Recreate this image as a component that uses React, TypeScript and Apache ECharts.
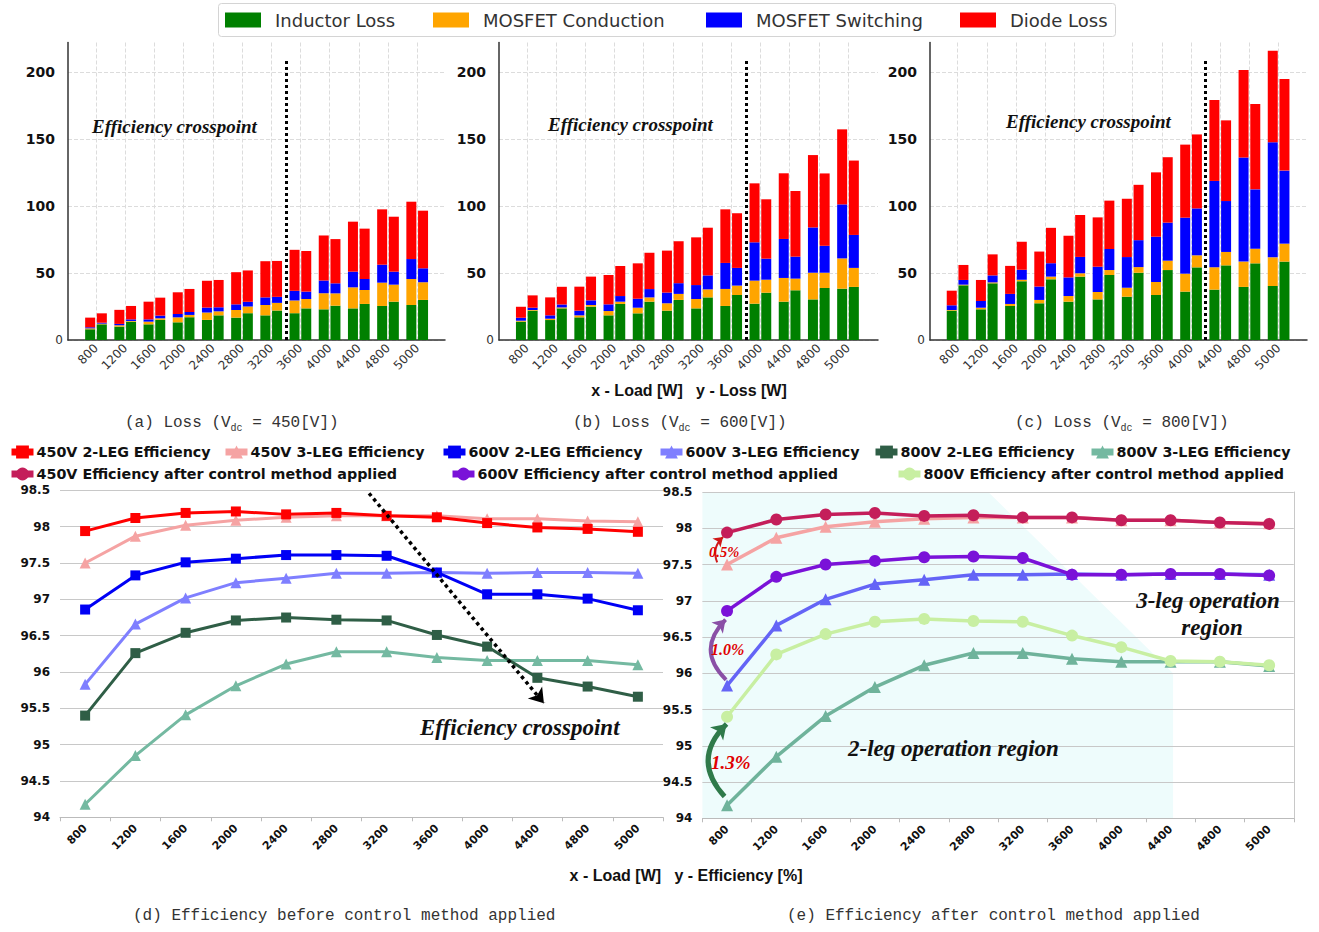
import React, { useEffect, useRef } from 'react';
import * as echarts from 'echarts';

// ---------- categories ----------
const loads = ['800', '1200', '1600', '2000', '2400', '2800', '3200', '3600', '4000', '4400', '4800', '5000'];
const lossNames = ['Inductor Loss', 'MOSFET Conduction', 'MOSFET Switching', 'Diode Loss'];

// ---------- (a) Vdc = 450 V : left bar (2-leg) / right bar (3-leg) ----------
const a2Inductor = [8, 10, 11.7, 13.2, 15, 16.7, 18.4, 20, 22.9, 23.6, 25.4, 26.1];
const a2Cond = [0.7, 1, 2, 3.7, 5.5, 5.7, 7.7, 9.5, 12, 15.7, 17.4, 19.4];
const a2Switch = [0.8, 1, 1.7, 2.5, 3.7, 4.2, 5.7, 7.2, 9.5, 11.7, 13.4, 14.9];
const a2Diode = [7.2, 10.5, 13.2, 16.2, 20, 24, 27, 30.6, 33.6, 37.3, 41.3, 42.8];
const a3Inductor = [11.7, 13.7, 15, 17, 18.4, 20, 22, 23.6, 25.6, 26.9, 28.6, 29.9];
const a3Cond = [0.5, 0.5, 1.2, 1.7, 3, 5, 5.7, 7, 9.2, 10.4, 12.7, 13.2];
const a3Switch = [0.7, 1.2, 2, 2.2, 3, 3.5, 4.5, 5.5, 7.5, 8.2, 9.7, 10.4];
const a3Diode = [7, 10, 13.4, 17.2, 20.4, 23.4, 26.8, 30.3, 33, 37.6, 41, 43];

// ---------- (b) Vdc = 600 V ----------
const b2Inductor = [13.7, 14.9, 16.9, 18.4, 19.9, 21.9, 23.6, 25.4, 27.1, 28.6, 30.3, 38.3];
const b2Cond = [0.7, 1, 1.5, 3.2, 4.2, 5.5, 7, 12.7, 17.2, 17.7, 19.9, 22.6];
const b2Switch = [2.2, 2.5, 3.5, 5, 6.7, 8, 10.4, 19.4, 28.6, 29.1, 33.8, 40.3];
const b2Diode = [8.2, 13.4, 17.9, 21.9, 26.4, 31.3, 35.6, 40, 44, 49, 54, 56];
const b3Inductor = [21.9, 23.6, 24.9, 26.9, 28.6, 29.9, 31.8, 33.6, 35.3, 37.1, 38.8, 39.6];
const b3Cond = [0.5, 0.7, 1.2, 1.7, 3.2, 4.5, 6, 7, 9.7, 8.7, 11.4, 14.2];
const b3Switch = [1.7, 2.2, 3.5, 4.2, 6.2, 8, 10.4, 13.2, 15.7, 16.4, 20.1, 24.6];
const b3Diode = [9.2, 13.2, 17.7, 22.4, 27.1, 31.3, 35.6, 40.8, 44.3, 49, 54, 55.5];

// ---------- (c) Vdc = 800 V ----------
const c2Inductor = [21.9, 22.9, 25.4, 27.4, 28.6, 30.3, 32.3, 33.6, 36.1, 37.6, 39.6, 40.3];
const c2Cond = [0.5, 1.2, 1.5, 2.5, 4.2, 5.5, 6.7, 9.7, 13.4, 16.7, 18.9, 21.4];
const c2Switch = [3.5, 5, 7.5, 10, 13.9, 18.9, 22.9, 33.8, 41.8, 64.4, 77.6, 85.8];
const c2Diode = [10.9, 15.7, 20.9, 26.1, 31.1, 36.8, 43.5, 48, 54.5, 60.4, 65.4, 68.4];
const c3Inductor = [40.8, 42.3, 43.8, 45.3, 47.3, 48.5, 50.2, 52.2, 54.2, 55.7, 57.2, 58.5];
const c3Cond = [0.5, 0.7, 1.2, 2, 2.5, 3.7, 4.2, 7, 9, 10, 10.9, 13.4];
const c3Switch = [3.5, 5.2, 7.5, 10, 12.2, 15.7, 20.1, 28.4, 35, 38, 44.3, 54.5];
const c3Diode = [11.2, 15.7, 20.9, 26.4, 31.3, 36.1, 41.3, 48.8, 55.2, 60.2, 63.7, 68.4];

// crosspoint positions (category index between two loads) and dotted line top
const crossAt = [6.5, 7.5, 8.5];
const crossTop = 210;

// ---------- efficiency ----------
const eff450TwoLeg = [97.94, 98.12, 98.19, 98.21, 98.17, 98.19, 98.15, 98.13, 98.05, 97.99, 97.97, 97.93];
const eff450ThreeLeg = [97.5, 97.87, 98.02, 98.09, 98.13, 98.15, 98.15, 98.15, 98.11, 98.11, 98.08, 98.07];
const eff600TwoLeg = [96.86, 97.33, 97.51, 97.56, 97.61, 97.61, 97.6, 97.37, 97.07, 97.07, 97.01, 96.85];
const eff600ThreeLeg = [95.83, 96.66, 97.02, 97.23, 97.29, 97.36, 97.36, 97.37, 97.36, 97.37, 97.37, 97.36];
const eff800TwoLeg = [95.4, 96.26, 96.54, 96.71, 96.75, 96.72, 96.71, 96.51, 96.35, 95.92, 95.8, 95.66];
const eff800ThreeLeg = [94.18, 94.85, 95.41, 95.81, 96.11, 96.28, 96.28, 96.2, 96.16, 96.16, 96.16, 96.1];
const eff450After = [97.94, 98.12, 98.19, 98.21, 98.17, 98.18, 98.15, 98.15, 98.11, 98.11, 98.08, 98.06];
const eff600After = [96.86, 97.33, 97.5, 97.55, 97.6, 97.61, 97.59, 97.36, 97.36, 97.37, 97.37, 97.35];
const eff800After = [95.4, 96.26, 96.54, 96.71, 96.75, 96.72, 96.71, 96.52, 96.36, 96.17, 96.16, 96.11];

const effTicks = { min: 94, max: 98.5, interval: 0.5 };

// annotations in data space
const crossArrow = [[5.65, 98.46], [9.13, 95.57]];
const gain05 = [[-0.2, 97.53], [-0.08, 97.88]];
const gain10 = [[-0.02, 95.91], [-0.03, 96.74]];
const gain13 = [[-0.05, 94.3], [-0.01, 95.3]];
const twoLegRegion = [[-0.5, 98.5], [5.3, 98.5], [9.05, 96.0], [9.05, 94], [-0.5, 94]];

const SANS = 'DejaVu Sans';
const SERIF = 'Liberation Serif';
const MONO = 'Liberation Mono';
const lossColors = ['#008000', '#FFA500', '#0000FF', '#FF0000'];

function buildOption() {
  const grid: any[] = [];
  const xAxis: any[] = [];
  const yAxis: any[] = [];
  const series: any[] = [];

  const TOP = 42.5;
  const H = 297.5;
  const MAXL = 222;

  const panels = [
    { frameLeft: 68, frameWidth: 377, barLeft: 81.4, barWidth: 350.4, sets: [[a2Inductor, a2Cond, a2Switch, a2Diode], [a3Inductor, a3Cond, a3Switch, a3Diode]] },
    { frameLeft: 499, frameWidth: 379, barLeft: 512.2, barWidth: 350.4, sets: [[b2Inductor, b2Cond, b2Switch, b2Diode], [b3Inductor, b3Cond, b3Switch, b3Diode]] },
    { frameLeft: 930, frameWidth: 377, barLeft: 943, barWidth: 350.2, sets: [[c2Inductor, c2Cond, c2Switch, c2Diode], [c3Inductor, c3Cond, c3Switch, c3Diode]] },
  ];

  panels.forEach((p, i) => {
    const gFrame = grid.length;
    grid.push({ left: p.frameLeft, top: TOP, width: p.frameWidth, height: H, outerBoundsMode: 'none' });
    const gBar = grid.length;
    grid.push({ left: p.barLeft, top: TOP, width: p.barWidth, height: H, outerBoundsMode: 'none' });

    xAxis.push({
      type: 'value', gridIndex: gFrame, min: 0, max: 1,
      axisLine: { show: true, onZero: false, lineStyle: { color: '#333', width: 1.5 } },
      axisTick: { show: false }, axisLabel: { show: false }, splitLine: { show: false },
    });
    yAxis.push({
      type: 'value', gridIndex: gFrame, min: 0, max: MAXL, interval: 50,
      axisLine: { show: true, lineStyle: { color: '#333', width: 1.5 } },
      axisTick: { show: false },
      splitLine: { show: true, showMaxLine: false, lineStyle: { color: '#dcdcdc', type: 'dashed' } },
      axisLabel: {
        margin: 5, showMaxLabel: false,
        formatter: (v: number) => (v === 0 ? '{z|0}' : '{b|' + v + '}'),
        rich: {
          z: { fontSize: 12, color: '#333', fontFamily: SANS },
          b: { fontSize: 14, fontWeight: 'bold', color: '#111', fontFamily: SANS, padding: [0, 8, 0, 0] },
        },
      },
    });
    const xCat = xAxis.length;
    xAxis.push({
      type: 'category', gridIndex: gBar, data: loads,
      axisLine: { show: false }, axisTick: { show: false },
      splitLine: { show: true, alignWithLabel: true, lineStyle: { color: '#dcdcdc', type: 'dashed' } },
      axisLabel: { rotate: 45, fontSize: 12, color: '#333', fontFamily: SANS, margin: 6 },
    });
    const yBar = yAxis.length;
    yAxis.push({ type: 'value', gridIndex: gBar, min: 0, max: MAXL, show: false, splitLine: { show: false } });
    const xMark = xAxis.length;
    xAxis.push({ type: 'value', gridIndex: gBar, min: -0.5, max: 11.5, show: false, splitLine: { show: false } });

    p.sets.forEach((set, k) => {
      set.forEach((arr, j) => {
        series.push({
          type: 'bar', name: lossNames[j], stack: 'p' + i + 's' + k,
          xAxisIndex: xCat, yAxisIndex: yBar, data: arr,
          barWidth: 10, barGap: '17%',
          itemStyle: { color: lossColors[j] },
          emphasis: { disabled: true },
        });
      });
    });

    series.push({
      type: 'lines', coordinateSystem: 'cartesian2d', xAxisIndex: xMark, yAxisIndex: yBar,
      symbol: ['none', 'none'], silent: true, z: 5,
      lineStyle: { type: 'dotted', color: '#000', width: 3, opacity: 1 },
      data: [{ coords: [[crossAt[i], 0], [crossAt[i], crossTop]] }],
    });
  });

  // ---------- bottom panels ----------
  const bottom = [
    { left: 60, top: 490.4, width: 603, height: 326.9 },
    { left: 702.4, top: 492, width: 591.4, height: 326.3 },
  ];
  const idx: any[] = [];
  bottom.forEach((b, bi) => {
    const g = grid.length;
    grid.push({ ...b, outerBoundsMode: 'none' });
    const xc = xAxis.length;
    xAxis.push({
      type: 'category', gridIndex: g, data: loads,
      axisLine: { show: true, lineStyle: { color: '#bbb' } },
      axisTick: { show: true, length: 4, lineStyle: { color: '#bbb' } },
      splitLine: { show: false },
      axisLabel: { rotate: 45, fontSize: 11, fontWeight: 'bold', color: '#111', fontFamily: SANS, margin: 9 },
    });
    const yv = yAxis.length;
    yAxis.push({
      type: 'value', gridIndex: g, ...effTicks,
      axisLine: { show: false }, axisTick: { show: false },
      splitLine: { show: true, lineStyle: { color: '#c8c8c8', width: 1 } },
      axisLabel: { fontSize: 12, fontWeight: 'bold', color: '#111', fontFamily: SANS, margin: 10 },
    });
    if (bi === 1) {
      yAxis.push({
        type: 'value', gridIndex: g, position: 'right', ...effTicks,
        axisLine: { show: true, lineStyle: { color: '#c8c8c8' } }, axisTick: { show: false },
        axisLabel: { show: false }, splitLine: { show: false },
      });
    }
    const xv = xAxis.length;
    xAxis.push({ type: 'value', gridIndex: g, min: -0.5, max: 11.5, show: false, splitLine: { show: false } });
    idx.push({ xc, yv, xv });
  });

  const line = (name: string, data: number[], color: string, symbol: string, ax: any, width: number, size: number, z: number) => ({
    type: 'line', name, data, xAxisIndex: ax.xc, yAxisIndex: ax.yv,
    symbol, symbolSize: size, showSymbol: true,
    lineStyle: { color, width }, itemStyle: { color },
    z, emphasis: { disabled: true },
  });

  const N450_2 = '450V 2-LEG Efficiency';
  const N450_3 = '450V 3-LEG Efficiency';
  const N600_2 = '600V 2-LEG Efficiency';
  const N600_3 = '600V 3-LEG Efficiency';
  const N800_2 = '800V 2-LEG Efficiency';
  const N800_3 = '800V 3-LEG Efficiency';
  const N450_A = '450V Efficiency after control method applied';
  const N600_A = '600V Efficiency after control method applied';
  const N800_A = '800V Efficiency after control method applied';

  const D = idx[0];
  const E = idx[1];
  series.push(line(N450_3, eff450ThreeLeg, '#F5A3A3', 'triangle', D, 3, 11, 3));
  series.push(line(N450_2, eff450TwoLeg, '#FF0000', 'rect', D, 3, 10, 4));
  series.push(line(N600_3, eff600ThreeLeg, '#7F7FFF', 'triangle', D, 3, 11, 3));
  series.push(line(N600_2, eff600TwoLeg, '#0000F5', 'rect', D, 3, 10, 4));
  series.push(line(N800_3, eff800ThreeLeg, '#74B9A1', 'triangle', D, 3, 11, 3));
  series.push(line(N800_2, eff800TwoLeg, '#2F5E46', 'rect', D, 3, 10, 4));

  series.push(line(N450_3, eff450ThreeLeg, '#F5A3A3', 'triangle', E, 3.5, 12, 3));
  series.push(line(N600_3, eff600ThreeLeg, '#6464F6', 'triangle', E, 3.5, 12, 3));
  series.push(line(N800_3, eff800ThreeLeg, '#6FB39B', 'triangle', E, 3.5, 12, 3));
  series.push(line(N450_A, eff450After, '#C41E5A', 'circle', E, 3.5, 12, 4));
  series.push(line(N600_A, eff600After, '#7A12D8', 'circle', E, 3.5, 12, 4));
  series.push(line(N800_A, eff800After, '#C8EFA2', 'circle', E, 3.5, 12, 4));

  // 2-leg operation region (light cyan)
  series.push({
    type: 'custom', xAxisIndex: E.xv, yAxisIndex: E.yv, z: -1, silent: true, clip: false,
    data: [[0, 95]],
    renderItem: (_params: any, api: any) => ({
      type: 'polygon',
      shape: { points: twoLegRegion.map((pt) => api.coord(pt)) },
      style: { fill: '#EEFCFC' },
    }),
  });

  // efficiency crosspoint arrow in (d)
  series.push({
    type: 'lines', coordinateSystem: 'cartesian2d', xAxisIndex: D.xv, yAxisIndex: D.yv,
    symbol: ['none', 'arrow'], symbolSize: 14, silent: true, z: 6,
    lineStyle: { type: 'dotted', color: '#000', width: 3.5, opacity: 1 },
    data: [{ coords: crossArrow }],
  });

  // gain arrows in (e)
  series.push({
    type: 'lines', coordinateSystem: 'cartesian2d', xAxisIndex: E.xv, yAxisIndex: E.yv,
    symbol: ['none', 'arrow'], symbolSize: 9, silent: true, z: 6,
    lineStyle: { color: '#D01818', width: 2, opacity: 1, curveness: 0.35 },
    data: [{ coords: gain05 }],
  });
  series.push({
    type: 'lines', coordinateSystem: 'cartesian2d', xAxisIndex: E.xv, yAxisIndex: E.yv,
    symbol: ['none', 'arrow'], symbolSize: 12, silent: true, z: 6,
    lineStyle: { color: '#8A4FA6', width: 4, opacity: 1, curveness: 0.5 },
    data: [{ coords: gain10 }],
  });
  series.push({
    type: 'lines', coordinateSystem: 'cartesian2d', xAxisIndex: E.xv, yAxisIndex: E.yv,
    symbol: ['none', 'arrow'], symbolSize: 14, silent: true, z: 6,
    lineStyle: { color: '#2F7A4A', width: 5, opacity: 1, curveness: 0.48 },
    data: [{ coords: gain13 }],
  });

  // ---------- legends ----------
  const topLegendPos = [225, 433, 706, 960];
  const legend: any[] = lossNames.map((n, i) => ({
    data: [n], left: topLegendPos[i], top: 11, padding: 0,
    itemWidth: 36, itemHeight: 15, icon: 'rect',
    textStyle: { fontFamily: SANS, fontSize: 18, color: '#333', padding: [0, 0, 0, 9] },
  }));
  const botLegend: [string, number, number][] = [
    [N450_2, 8, 445], [N450_3, 222, 445], [N600_2, 440, 445], [N600_3, 657, 445], [N800_2, 872, 445], [N800_3, 1088, 445],
    [N450_A, 8, 467], [N600_A, 449, 467], [N800_A, 895, 467],
  ];
  botLegend.forEach(([n, l, t]) => {
    legend.push({
      data: [n], left: l, top: t, padding: 0,
      itemWidth: 22, itemHeight: 16,
      lineStyle: { width: 7 },
      textStyle: { fontFamily: SANS, fontSize: 14.3, fontWeight: 'bold', color: '#111', padding: [0, 0, 0, -2] },
    });
  });

  // ---------- graphic texts ----------
  const txt = (text: string, x: number, y: number, size: number, o: any = {}) => ({
    type: 'text', x, y, z: 100, silent: true,
    style: {
      text, fill: o.fill || '#111', fontFamily: o.family || SERIF, fontSize: size,
      fontWeight: o.weight || 'bold', fontStyle: o.style || 'italic',
      align: o.align || 'left', verticalAlign: 'middle',
    },
  });
  const cap = (pre: string, sub: string, post: string, x: number, y: number) => ({
    type: 'text', x, y, z: 100, silent: true,
    style: {
      text: '{n|' + pre + '}' + (sub ? '{s|' + sub + '}' : '') + (post ? '{n|' + post + '}' : ''),
      fill: '#333', verticalAlign: 'middle', align: 'left',
      rich: {
        n: { fontFamily: MONO, fontSize: 16, fill: '#333', lineHeight: 20 },
        s: { fontFamily: MONO, fontSize: 10, fill: '#333', lineHeight: 12, verticalAlign: 'bottom' },
      },
    },
  });

  const graphic: any[] = [
    {
      type: 'rect', z: -10, silent: true,
      shape: { x: 218.5, y: 3.5, width: 897, height: 33, r: 3 },
      style: { fill: 'rgba(255,255,255,0)', stroke: '#d4d4d4', lineWidth: 1 },
    },
    txt('Efficiency crosspoint', 92, 126, 19),
    txt('Efficiency crosspoint', 548, 124, 19),
    txt('Efficiency crosspoint', 1006, 121, 19),
    txt('x - Load [W]   y - Loss [W]', 689, 390, 16, { family: 'Liberation Sans', style: 'normal', align: 'center' }),
    cap('(a) Loss (V', 'dc', ' = 450[V])', 125, 423),
    cap('(b) Loss (V', 'dc', ' = 600[V])', 573, 423),
    cap('(c) Loss (V', 'dc', ' = 800[V])', 1015, 423),
    txt('Efficiency crosspoint', 420, 727, 23),
    txt('3-leg operation', 1208, 600, 23, { align: 'center' }),
    txt('region', 1212, 627, 23, { align: 'center' }),
    txt('2-leg operation region', 848, 748, 23),
    txt('0.5%', 709, 552, 14.5, { fill: '#E00000' }),
    txt('1.0%', 711, 649, 16, { fill: '#E00000' }),
    txt('1.3%', 711, 762, 19, { fill: '#E00000' }),
    txt('x - Load [W]   y - Efficiency [%]', 686, 875, 16, { family: 'Liberation Sans', style: 'normal', align: 'center' }),
    cap('(d) Efficiency before control method applied', '', '', 133, 916),
    cap('(e) Efficiency after control method applied', '', '', 787, 916),
  ];

  return {
    animation: false,
    backgroundColor: '#ffffff',
    tooltip: { show: false },
    grid, xAxis, yAxis, series, legend, graphic,
  };
}

export default function App() {
  const ref = useRef<HTMLDivElement>(null);
  useEffect(() => {
    if (!ref.current) return;
    const chart = echarts.init(ref.current, undefined, { renderer: 'svg' });
    chart.setOption(buildOption() as any);
    return () => chart.dispose();
  }, []);
  return <div ref={ref} style={{ position: 'absolute', left: 0, top: 0, width: 1319, height: 932 }} />;
}
